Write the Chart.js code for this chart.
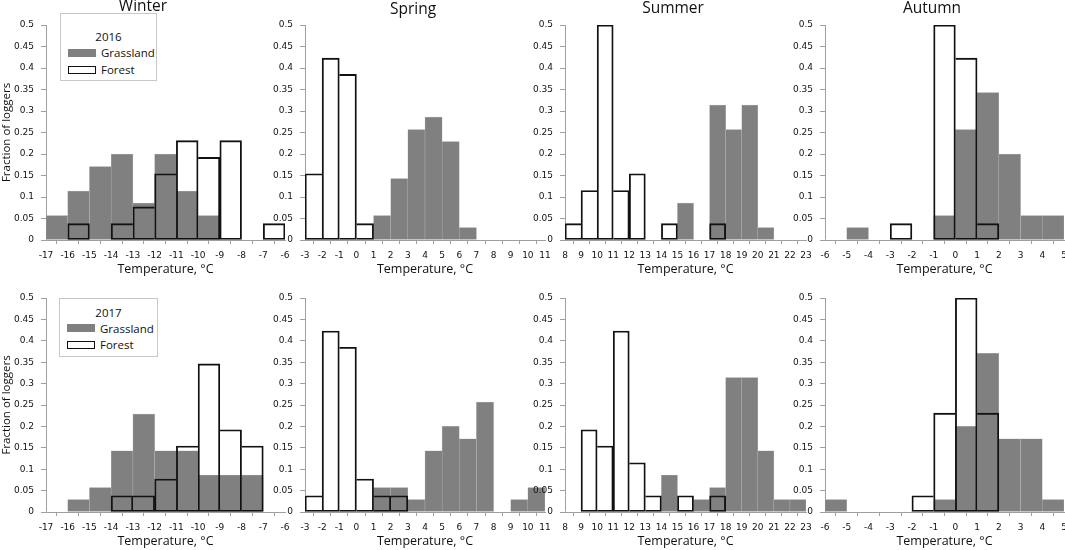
<!DOCTYPE html>
<html>
<head>
<meta charset="utf-8">
<title>Fraction of loggers by temperature</title>
<script src="https://cdn.jsdelivr.net/npm/chart.js@4.4.1/dist/chart.umd.min.js"></script>
<style>
  html, body { margin: 0; padding: 0; background: #fff; overflow: hidden; }
  body { width: 1065px; height: 550px; position: relative; font-family: "Open Sans", sans-serif; color: #111; }
  .panel { position: absolute; }
  .legend { position: absolute; background: #fff; border: 1px solid #c8c8c8; box-sizing: border-box; font-size: 11.5px; z-index: 5; }
  .legend .yr { position: absolute; left: 0; width: 100%; text-align: center; line-height: 14px; }
  .legend .sw { position: absolute; left: 7px; width: 28px; height: 8px; box-sizing: border-box; }
  .legend .sw.grass { background: #808080; }
  .legend .sw.forest { background: #fff; border: 1px solid #111; }
  .legend .lb { position: absolute; left: 40px; line-height: 14px; }
</style>
</head>
<body>
<div class="legend" style="left:60px;top:13px;width:97px;height:68px">
  <div class="yr" style="top:16px">2016</div>
  <div class="sw grass" style="top:35px"></div><div class="lb" style="top:32px">Grassland</div>
  <div class="sw forest" style="top:52px"></div><div class="lb" style="top:49px">Forest</div>
</div>
<div class="legend" style="left:59px;top:298px;width:99px;height:59px">
  <div class="yr" style="top:7px">2017</div>
  <div class="sw grass" style="top:25px"></div><div class="lb" style="top:23px">Grassland</div>
  <div class="sw forest" style="top:42px"></div><div class="lb" style="top:39px">Forest</div>
</div>
<script>
"use strict";

// lower edge of each 1 °C bin
const winterBins = [-17, -16, -15, -14, -13, -12, -11, -10, -9, -8, -7];
const springBins = [-3, -2, -1, 0, 1, 2, 3, 4, 5, 6, 7, 8, 9, 10];
const summerBins = [8, 9, 10, 11, 12, 13, 14, 15, 16, 17, 18, 19, 20, 21, 22];
const autumnBins = [-6, -5, -4, -3, -2, -1, 0, 1, 2, 3, 4];

// 2016
const grass2016Winter = [0.057, 0.114, 0.171, 0.2, 0.086, 0.2, 0.114, 0.057, 0, 0, 0];
const forest2016Winter = [0, 0.038, 0, 0.038, 0.077, 0.154, 0.231, 0.192, 0.231, 0, 0.038];
const grass2016Spring = [0, 0, 0, 0, 0.057, 0.143, 0.257, 0.286, 0.229, 0.029, 0, 0, 0, 0];
const forest2016Spring = [0.154, 0.423, 0.385, 0.038, 0, 0, 0, 0, 0, 0, 0, 0, 0, 0];
const grass2016Summer = [0, 0, 0, 0, 0, 0, 0, 0.086, 0, 0.314, 0.257, 0.314, 0.029, 0, 0];
const forest2016Summer = [0.038, 0.115, 0.5, 0.115, 0.154, 0, 0.038, 0, 0, 0.038, 0, 0, 0, 0, 0];
const grass2016Autumn = [0, 0.029, 0, 0, 0, 0.057, 0.257, 0.343, 0.2, 0.057, 0.057];
const forest2016Autumn = [0, 0, 0, 0.038, 0, 0.5, 0.423, 0.038, 0, 0, 0];

// 2017
const grass2017Winter = [0, 0.029, 0.057, 0.143, 0.229, 0.143, 0.143, 0.086, 0.086, 0.086, 0];
const forest2017Winter = [0, 0, 0, 0.038, 0.038, 0.077, 0.154, 0.346, 0.192, 0.154, 0];
const grass2017Spring = [0, 0, 0, 0, 0.057, 0.057, 0.029, 0.143, 0.2, 0.171, 0.257, 0, 0.029, 0.057];
const forest2017Spring = [0.038, 0.423, 0.385, 0.077, 0.038, 0.038, 0, 0, 0, 0, 0, 0, 0, 0];
const grass2017Summer = [0, 0, 0, 0, 0, 0, 0.086, 0, 0.029, 0.057, 0.314, 0.314, 0.143, 0.029, 0.029];
const forest2017Summer = [0, 0.192, 0.154, 0.423, 0.115, 0.038, 0, 0.038, 0, 0.038, 0, 0, 0, 0, 0];
const grass2017Autumn = [0.029, 0, 0, 0, 0, 0.029, 0.2, 0.371, 0.171, 0.171, 0.029];
const forest2017Autumn = [0, 0, 0, 0, 0.038, 0.231, 0.5, 0.231, 0, 0, 0];

const panels = [
  { season: "Winter", row: 0, bins: winterBins, grass: grass2016Winter, forest: forest2016Winter },
  { season: "Spring", row: 0, bins: springBins, grass: grass2016Spring, forest: forest2016Spring },
  { season: "Summer", row: 0, bins: summerBins, grass: grass2016Summer, forest: forest2016Summer },
  { season: "Autumn", row: 0, bins: autumnBins, grass: grass2016Autumn, forest: forest2016Autumn },
  { season: "Winter", row: 1, bins: winterBins, grass: grass2017Winter, forest: forest2017Winter },
  { season: "Spring", row: 1, bins: springBins, grass: grass2017Spring, forest: forest2017Spring },
  { season: "Summer", row: 1, bins: summerBins, grass: grass2017Summer, forest: forest2017Summer },
  { season: "Autumn", row: 1, bins: autumnBins, grass: grass2017Autumn, forest: forest2017Autumn },
];

// page layout of each column / row (plot area in page pixels)
const cols = {
  Winter: { left: 46, right: 285, yW: 46, titleX: 143, titleY: 7 },
  Spring: { left: 305, right: 545, yW: 40, titleX: 413, titleY: 10 },
  Summer: { left: 565, right: 806, yW: 40, titleX: 673, titleY: 9 },
  Autumn: { left: 825, right: 1064, yW: 40, titleX: 932, titleY: 9 },
};
const rows = [
  { top: 0, pad: 25, plotH: 215 },
  { top: 270, pad: 28, plotH: 214 },
];
const X_AXIS_H = 37;
const RIGHT_PAD = 12;
const axisGrey = "#a0a0a0";
const textCol = "#111";
const tickFont = { family: "DejaVu Sans", size: 9 };

const panelTitle = {
  id: "panelTitle",
  afterDraw(chart, args, opts) {
    if (!opts.text) return;
    const ctx = chart.ctx;
    ctx.save();
    ctx.font = '15.5px "Open Sans"';
    ctx.fillStyle = textCol;
    ctx.textAlign = "center";
    ctx.textBaseline = "middle";
    ctx.fillText(opts.text, opts.x, opts.y);
    ctx.restore();
  },
};

const toPoints = (bins, vals) => bins.map((b, i) => ({ x: b + 0.5, y: vals[i] }));

// a shared edge between two forest bars is drawn only once
const outlineSkip = (vals) => (ctx) => {
  const i = ctx.dataIndex;
  const cur = vals[i];
  if (i > 0 && vals[i - 1] >= cur) return "left";
  if (i < vals.length - 1 && vals[i + 1] > cur) return "right";
  return false;
};

panels.forEach((p) => {
  const c = cols[p.season];
  const r = rows[p.row];
  const boxLeft = c.left - c.yW;
  const box = document.createElement("div");
  box.className = "panel";
  box.style.left = boxLeft + "px";
  box.style.top = r.top + "px";
  box.style.width = c.yW + (c.right - c.left) + RIGHT_PAD + "px";
  box.style.height = r.pad + r.plotH + X_AXIS_H + "px";
  const canvas = document.createElement("canvas");
  box.appendChild(canvas);
  document.body.appendChild(box);

  const isWinter = p.season === "Winter";

  new Chart(canvas, {
    type: "bar",
    data: {
      datasets: [
        // outline of the forest bars, on top
        {
          label: "Forest",
          data: toPoints(p.bins, p.forest),
          backgroundColor: "rgba(0,0,0,0)",
          borderColor: "#111",
          borderWidth: 1.2,
          borderSkipped: outlineSkip(p.forest),
        },
        {
          label: "Grassland",
          data: toPoints(p.bins, p.grass),
          backgroundColor: "#808080",
          borderColor: "#b8b8b8",
          borderWidth: 0.5,
          borderSkipped: false,
        },
        // white fill of the forest bars, behind
        {
          label: "Forest fill",
          data: toPoints(p.bins, p.forest),
          backgroundColor: "#ffffff",
          borderWidth: 0,
        },
      ],
    },
    options: {
      animation: false,
      responsive: true,
      maintainAspectRatio: false,
      datasets: { bar: { grouped: false, barPercentage: 1, categoryPercentage: 1 } },
      layout: { padding: { top: r.pad, right: RIGHT_PAD, left: 0, bottom: 0 } },
      plugins: {
        legend: { display: false },
        tooltip: { enabled: false },
        panelTitle: p.row === 0 ? { text: p.season, x: c.titleX - boxLeft, y: c.titleY } : {},
      },
      scales: {
        x: {
          type: "linear",
          min: p.bins[0],
          max: p.bins[p.bins.length - 1] + 1,
          offset: false,
          ticks: { stepSize: 1, autoSkip: false, maxRotation: 0, padding: 6, font: tickFont, color: textCol },
          grid: { drawOnChartArea: false, drawTicks: true, tickLength: 4, color: axisGrey },
          border: { color: axisGrey },
          title: { display: true, text: "Temperature, °C", font: { family: "Open Sans", size: 12.5 }, color: textCol, padding: 0 },
          afterFit: (s) => { s.height = X_AXIS_H; },
        },
        y: {
          min: 0,
          max: 0.5,
          ticks: {
            stepSize: 0.05,
            padding: 7,
            font: tickFont,
            color: textCol,
            callback: (v) => String(+v.toFixed(2)),
          },
          grid: { drawOnChartArea: false, drawTicks: true, tickLength: 5, color: axisGrey },
          border: { color: axisGrey },
          title: {
            display: isWinter,
            text: "Fraction of loggers",
            font: { family: "Open Sans", size: 11.5 },
            color: textCol,
            padding: 0,
          },
          afterFit: (s) => { s.width = c.yW; },
        },
      },
    },
    plugins: [panelTitle],
  });
});
</script>
</body>
</html>
